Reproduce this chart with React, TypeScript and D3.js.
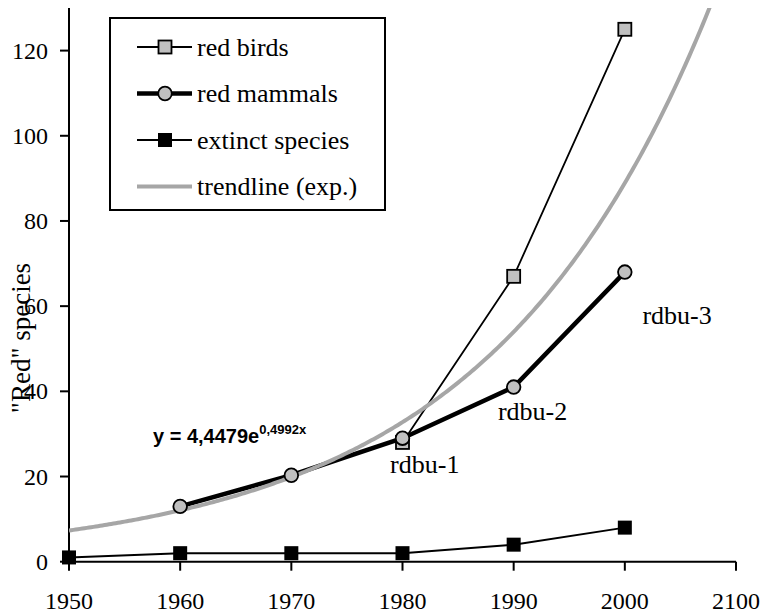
import React from "react";
import * as d3 from "d3";

const years = ["1950", "1960", "1970", "1980", "1990", "2000", "2100"];
const redBirds: (number | null)[] = [null, null, null, 28, 67, 125];
const redMammals: (number | null)[] = [null, 13, 20.3, 29, 41, 68];
const extinct: number[] = [1, 2, 2, 2, 4, 8];
const yTicks = [0, 20, 40, 60, 80, 100, 120];
const trendA = 4.4479;
const trendB = 0.4992;
const annotations = [
  { text: "rdbu-1", xi: 3.2, y: 20.9 },
  { text: "rdbu-2", xi: 4.17, y: 33.3 },
  { text: "rdbu-3", xi: 5.47, y: 55.7 },
];
const legendItems = ["red birds", "red mammals", "extinct species", "trendline (exp.)"];

const W = 765, H = 615;
const left = 69, right = 736, top = 8, bottom = 561.7;

export default function App() {
  const x = d3.scaleLinear().domain([0, 6]).range([left, right]);
  const y = d3.scaleLinear().domain([0, 130]).range([bottom, top]);
  const serif = "'Liberation Serif', 'Times New Roman', serif";

  const line = d3
    .line<[number, number | null]>()
    .defined((d) => d[1] !== null)
    .x((d) => x(d[0]))
    .y((d) => y(d[1] as number));

  const toPts = (arr: (number | null)[]) => arr.map((v, i) => [i, v] as [number, number | null]);

  const trendPts: [number, number][] = d3.range(0, 6.0001, 0.02).map((i) => [i, trendA * Math.exp(trendB * (i + 1))]);
  const trendLine = d3
    .line<[number, number]>()
    .x((d) => x(d[0]))
    .y((d) => y(d[1]));

  const sq = 14;
  return (
    <svg width={W} height={H} style={{ position: "absolute", left: 0, top: 0, background: "#fff" }}>
      <defs>
        <clipPath id="plot">
          <rect x={left} y={top} width={right - left + 20} height={bottom - top} />
        </clipPath>
      </defs>
      <rect width={W} height={H} fill="#fff" />
      {/* axes */}
      <line x1={left} x2={left} y1={top} y2={bottom} stroke="#000" strokeWidth={2} />
      <line x1={left} x2={right} y1={bottom} y2={bottom} stroke="#000" strokeWidth={2} />
      {yTicks.map((t) => (
        <g key={t}>
          <line x1={left - 9} x2={left} y1={y(t)} y2={y(t)} stroke="#000" strokeWidth={2} />
          <text x={left - 21} y={y(t)} dy="0.34em" textAnchor="end" fontFamily={serif} fontSize={24}>
            {t}
          </text>
        </g>
      ))}
      {years.map((lab, i) => (
        <g key={lab}>
          <line x1={x(i)} x2={x(i)} y1={bottom} y2={bottom + 9} stroke="#000" strokeWidth={2} />
          <text x={x(i)} y={609} textAnchor="middle" fontFamily={serif} fontSize={24}>
            {lab}
          </text>
        </g>
      ))}
      <text
        transform={`translate(30,338) rotate(-90)`}
        textAnchor="middle"
        fontFamily={serif}
        fontSize={27}
      >
        "Red" species
      </text>

      {/* series lines */}
      <path d={line(toPts(extinct)) || ""} fill="none" stroke="#000" strokeWidth={2} />
      <path d={line(toPts(redMammals)) || ""} fill="none" stroke="#000" strokeWidth={4.5} />
      <path d={line(toPts(redBirds)) || ""} fill="none" stroke="#000" strokeWidth={1.8} />
      <path d={trendLine(trendPts) || ""} fill="none" stroke="#a6a6a6" strokeWidth={4} clipPath="url(#plot)" />

      {/* markers */}
      {extinct.map((v, i) => (
        <rect key={"e" + i} x={x(i) - sq / 2} y={y(v) - sq / 2} width={sq} height={sq} fill="#000" />
      ))}
      {redBirds.map((v, i) =>
        v === null ? null : (
          <rect key={"b" + i} x={x(i) - 6.5} y={y(v) - 6.5} width={13} height={13} fill="#c0c0c0" stroke="#000" strokeWidth={1.8} />
        )
      )}
      {redMammals.map((v, i) =>
        v === null ? null : (
          <circle key={"m" + i} cx={x(i)} cy={y(v)} r={6.8} fill="#c0c0c0" stroke="#000" strokeWidth={1.8} />
        )
      )}

      {/* annotations */}
      {annotations.map((a) => (
        <text key={a.text} x={x(a.xi)} y={y(a.y)} textAnchor="middle" fontFamily={serif} fontSize={26}>
          {a.text}
        </text>
      ))}
      <text x={153} y={443} fontFamily="'Liberation Sans', Arial, sans-serif" fontWeight="bold" fontSize={20}>
        y = 4,4479e
        <tspan dy={-9} fontSize={13}>0,4992x</tspan>
      </text>

      {/* legend */}
      <rect x={110} y={18} width={275} height={192} fill="#fff" stroke="#000" strokeWidth={2} />
      {legendItems.map((lab, i) => {
        const cy = 47 + i * 46.5;
        return (
          <g key={lab}>
            {i === 3 ? (
              <line x1={137} x2={192} y1={cy} y2={cy} stroke="#a6a6a6" strokeWidth={4} />
            ) : (
              <line x1={137} x2={192} y1={cy} y2={cy} stroke="#000" strokeWidth={i === 1 ? 4.5 : 2} />
            )}
            {i === 0 && <rect x={158.5} y={cy - 6.5} width={13} height={13} fill="#c0c0c0" stroke="#000" strokeWidth={1.8} />}
            {i === 1 && <circle cx={165} cy={cy} r={6.8} fill="#c0c0c0" stroke="#000" strokeWidth={1.8} />}
            {i === 2 && <rect x={158} y={cy - 7} width={14} height={14} fill="#000" />}
            <text x={197} y={cy} dy="0.34em" fontFamily={serif} fontSize={26}>
              {lab}
            </text>
          </g>
        );
      })}
    </svg>
  );
}
